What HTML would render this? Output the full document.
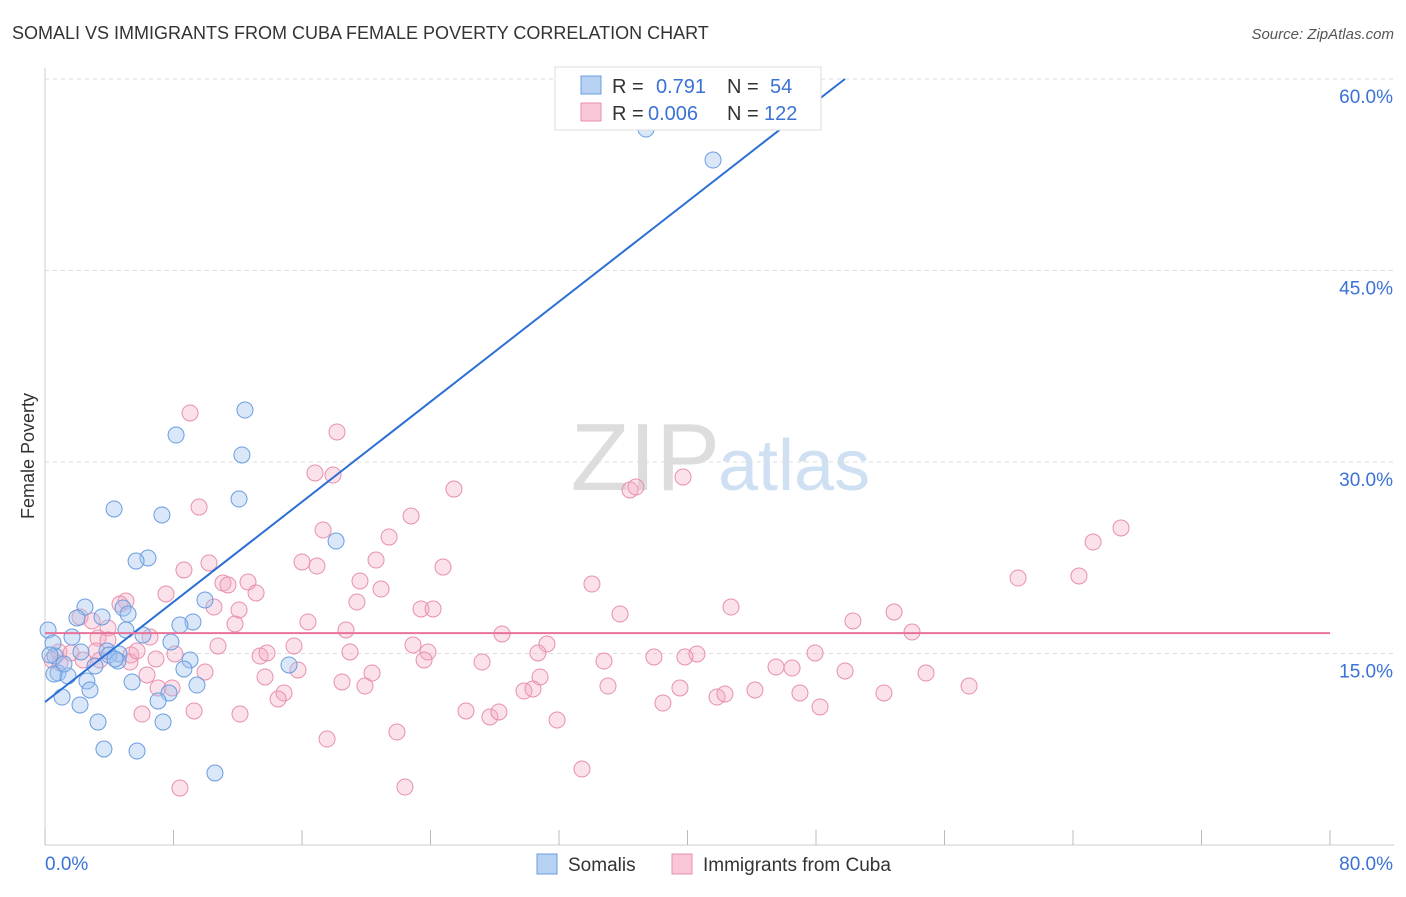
<!DOCTYPE html>
<html><head><meta charset="utf-8"><style>
body{margin:0;background:#fff;font-family:"Liberation Sans",sans-serif;}
svg text{font-family:"Liberation Sans",sans-serif;}
</style></head><body>
<svg id="chart" width="1406" height="892">
<text x="12" y="39" font-size="18" fill="#333">SOMALI VS IMMIGRANTS FROM CUBA FEMALE POVERTY CORRELATION CHART</text>
<text x="1394" y="39" font-size="15" fill="#555" font-style="italic" text-anchor="end">Source: ZipAtlas.com</text>
<text x="720" y="490" font-size="96" fill="#ddd" text-anchor="end" font-family="Liberation Serif">ZIP</text>
<text x="718" y="490" font-size="72" fill="#cfe0f3">atlas</text>
<text x="34" y="456" font-size="18" fill="#333" transform="rotate(-90 34 456)" text-anchor="middle">Female Poverty</text>
<g id="grid"></g><g id="ticks"></g><g id="pts"></g><g id="lines"></g>
<g>
<rect x="555" y="67" width="266" height="63" fill="#fff" stroke="#ddd"/>
<rect x="581" y="76" width="20" height="18" fill="#b7d1f3" stroke="#6a9de0"/>
<rect x="581" y="103" width="20" height="18" fill="#f8c6d6" stroke="#e890ab"/>
<text x="612" y="93" font-size="20" fill="#333">R = <tspan fill="#3a72d6" x="656">0.791</tspan><tspan x="727" fill="#333">N =</tspan><tspan x="770" fill="#3a72d6">54</tspan></text>
<text x="612" y="120" font-size="20" fill="#333">R = <tspan fill="#3a72d6" x="648">0.006</tspan><tspan x="727" fill="#333">N =</tspan><tspan x="764" fill="#3a72d6">122</tspan></text>
</g>
<g>
<rect x="537" y="854" width="20" height="20" fill="#b7d1f3" stroke="#6a9de0"/>
<text x="568" y="871" font-size="19" fill="#333">Somalis</text>
<rect x="672" y="854" width="20" height="20" fill="#f8c6d6" stroke="#e890ab"/>
<text x="703" y="871" font-size="19" fill="#333">Immigrants from Cuba</text>
</g>
</svg>
<script>
const xTicks=[0,8,16,24,32,40,48,56,64,72,80];
const yTicks=[15,30,45,60];
const yTickLabels=["15.0%","30.0%","45.0%","60.0%"];
const xEndLabels=["0.0%","80.0%"];
const blueLine=[11.2,0.791];// intercept, not used for slope; see endpoints
const blueFit=[[0,11.2],[49.8,60]];
const pinkFit=[[0,16.6],[80,16.6]];
const bluePx=[[646,129],[713,160],[245,410],[176,435],[242,455],[239,499],[114,509],[162,515],[336,541],[148,558],[136,561],[85,607],[77,618],[102,617],[123,608],[128,614],[205,600],[193,622],[180,625],[126,630],[143,635],[48,630],[72,637],[53,643],[171,642],[107,651],[119,654],[55,656],[81,652],[109,655],[190,660],[289,665],[95,666],[184,669],[58,673],[68,676],[87,681],[132,682],[90,690],[197,685],[169,693],[62,697],[158,701],[80,705],[98,722],[163,722],[104,749],[137,751],[215,773],[118,661],[54,674],[50,655],[64,664],[115,659]];
const pinkPx=[[190,413],[337,432],[315,473],[333,475],[454,489],[683,477],[630,490],[636,487],[199,507],[411,516],[323,530],[389,537],[1121,528],[1093,542],[376,560],[443,567],[302,562],[317,566],[209,563],[184,570],[1018,578],[1079,576],[592,584],[223,583],[248,582],[360,581],[228,585],[381,589],[256,593],[166,594],[357,602],[214,607],[239,610],[421,609],[433,609],[731,607],[620,614],[894,612],[126,601],[80,617],[92,621],[108,628],[235,624],[308,622],[346,630],[853,621],[912,632],[502,634],[98,638],[150,637],[218,646],[294,646],[413,645],[547,644],[260,656],[267,653],[350,652],[428,652],[59,652],[71,653],[131,655],[100,660],[156,659],[175,654],[815,653],[697,654],[685,657],[654,657],[604,661],[482,662],[424,660],[538,653],[130,662],[60,663],[298,670],[372,673],[540,677],[776,667],[792,668],[845,671],[926,673],[147,675],[205,672],[265,677],[608,686],[680,688],[365,686],[342,682],[158,688],[172,688],[284,693],[278,699],[524,691],[533,689],[755,690],[800,693],[884,693],[969,686],[717,697],[725,694],[663,703],[820,707],[466,711],[490,717],[499,712],[557,720],[142,714],[194,711],[240,714],[397,732],[327,739],[582,769],[180,788],[405,787],[52,660],[108,640],[83,660],[137,651],[120,604],[96,651]];
const toData=p=>[(p[0]-45)/16.0625,(845-p[1])/12.767];
const somaliX=bluePx.map(p=>+toData(p)[0].toFixed(2)), somaliY=bluePx.map(p=>+toData(p)[1].toFixed(2));
const cubaX=pinkPx.map(p=>+toData(p)[0].toFixed(2)), cubaY=pinkPx.map(p=>+toData(p)[1].toFixed(2));
const X=v=>45+v*16.0625, Y=v=>845-v*12.767;
const NS="http://www.w3.org/2000/svg";
function mk(tag,attrs,parent){const e=document.createElementNS(NS,tag);for(const k in attrs)e.setAttribute(k,attrs[k]);document.getElementById(parent).appendChild(e);return e;}
yTicks.forEach((t,i)=>{
 const l=mk('line',{x1:45,x2:1394,y1:Y(t),y2:Y(t),stroke:'#ddd','stroke-dasharray':'4,4'},'grid');
 
 
 const tx=mk('text',{x:1393,y:Y(t)+24,'font-size':19,fill:'#3a72d6','text-anchor':'end'},'ticks');
 tx.textContent=yTickLabels[i];
 
 
});
const ax=mk('line',{x1:45,x2:1394,y1:845,y2:845,stroke:'#ccc'},'grid');


const ay=mk('line',{x1:45,x2:45,y1:68,y2:845,stroke:'#ccc'},'grid');


xTicks.forEach(t=>{const l=mk('line',{x1:X(t),x2:X(t),y1:830,y2:845,stroke:'#bbb'},'ticks');
 
 });
const xl0=mk('text',{x:45,y:870,'font-size':19,fill:'#3a72d6'},'ticks');xl0.textContent=xEndLabels[0];


const xl1=mk('text',{x:1393,y:870,'font-size':19,fill:'#3a72d6','text-anchor':'end'},'ticks');xl1.textContent=xEndLabels[1];


cubaX.forEach((v,i)=>{const c=mk('circle',{cx:X(v),cy:Y(cubaY[i]),r:8,fill:'rgba(244,170,196,0.35)',stroke:'#e890ab','stroke-width':1},'pts');
 
 });
somaliX.forEach((v,i)=>{const c=mk('circle',{cx:X(v),cy:Y(somaliY[i]),r:8,fill:'rgba(160,196,240,0.4)',stroke:'#6a9de0','stroke-width':1},'pts');
 
 });
const bl=mk('line',{x1:X(blueFit[0][0]),y1:Y(blueFit[0][1]),x2:X(blueFit[1][0]),y2:Y(blueFit[1][1]),stroke:'#2b6fd6','stroke-width':2},'lines');


const pl=mk('line',{x1:X(pinkFit[0][0]),y1:Y(pinkFit[0][1]),x2:X(pinkFit[1][0]),y2:Y(pinkFit[1][1]),stroke:'#e8739a','stroke-width':2},'lines');


</script>
</body></html>
